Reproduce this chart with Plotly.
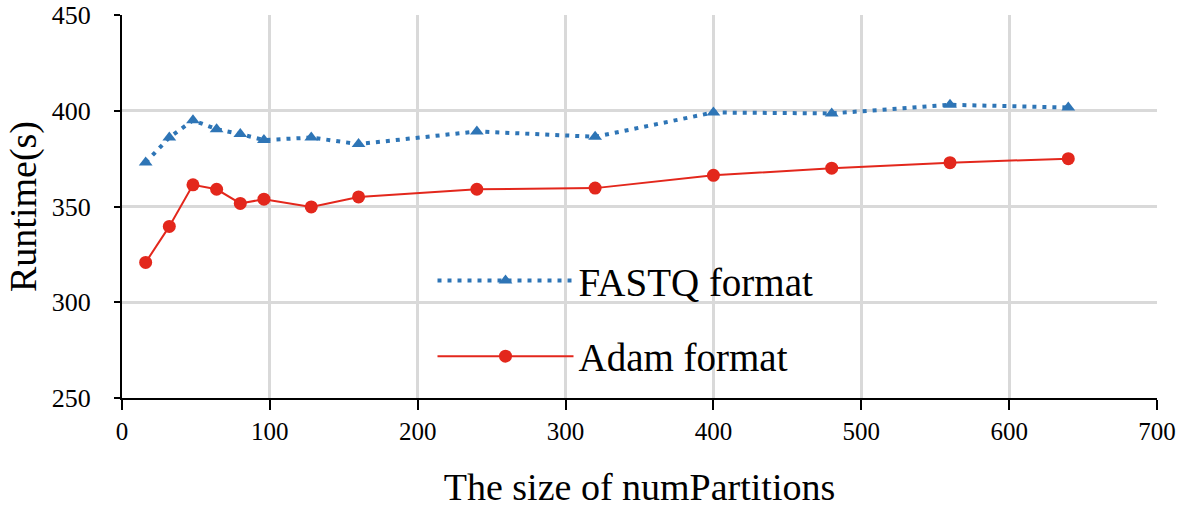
import plotly.graph_objects as go

partitions = [16, 32, 48, 64, 80, 96, 128, 160, 240, 320, 400, 480, 560, 640]
fastq_runtime = [373, 386, 395, 390.4, 387.8, 384.7, 386, 382.6, 389.2, 386.4, 399.1, 398.6, 403.1, 401.7]
adam_runtime = [320.8, 339.6, 361.3, 359, 351.6, 353.8, 349.8, 355, 359, 359.6, 366.3, 370, 372.9, 375]

x_ticks = [0, 100, 200, 300, 400, 500, 600, 700]
y_ticks = [250, 300, 350, 400, 450]

FONT = "Liberation Serif"

fig = go.Figure()
fig.add_trace(go.Scatter(
    x=partitions, y=fastq_runtime, name="FASTQ format", mode="lines+markers",
    legendgroup="a",
    line=dict(color="#2E75B6", width=4, dash="4px,6px"),
    marker=dict(symbol="triangle-up", size=12, color="#2E75B6"),
))
fig.add_trace(go.Scatter(
    x=partitions, y=adam_runtime, name="Adam format", mode="lines+markers",
    legendgroup="b",
    line=dict(color="#E3271C", width=2),
    marker=dict(symbol="circle", size=13, color="#E3271C"),
))

fig.update_layout(
    width=1181, height=508,
    margin=dict(l=122, r=24, t=15, b=110, autoexpand=False),
    paper_bgcolor="white", plot_bgcolor="white",
    font=dict(family=FONT, color="black"),
    legend=dict(
        x=0.3, y=0.39, xanchor="left", yanchor="top",
        font=dict(family=FONT, size=39, color="black"),
        bgcolor="rgba(0,0,0,0)", tracegroupgap=22, itemwidth=136,
    ),
    xaxis=dict(
        range=[0, 700], tickvals=x_ticks, showgrid=True, gridcolor="#D9D9D9", gridwidth=2.5,
        showline=True, linecolor="black", linewidth=2, ticks="outside", ticklen=10,
        tickwidth=2, tickcolor="black", zeroline=False, automargin=False,
        tickfont=dict(family=FONT, size=25, color="black"),
        title=dict(text="The size of numPartitions", font=dict(family=FONT, size=38, color="black"), standoff=33),
    ),
    yaxis=dict(
        range=[250, 450], tickvals=y_ticks, showgrid=True, gridcolor="#D9D9D9", gridwidth=2.5,
        showline=True, linecolor="black", linewidth=2, ticks="outside", ticklen=6,
        tickwidth=2, tickcolor="black", zeroline=False, automargin=False,
        ticklabelstandoff=18,
        tickfont=dict(family=FONT, size=26, color="black"),
        title=dict(text="Runtime(s)", font=dict(family=FONT, size=38, color="black"), standoff=3),
    ),
)

fig.write_html("out.html", config={"displayModeBar": False},
               post_script="document.body.style.margin='0px';document.body.style.overflow='hidden';")
